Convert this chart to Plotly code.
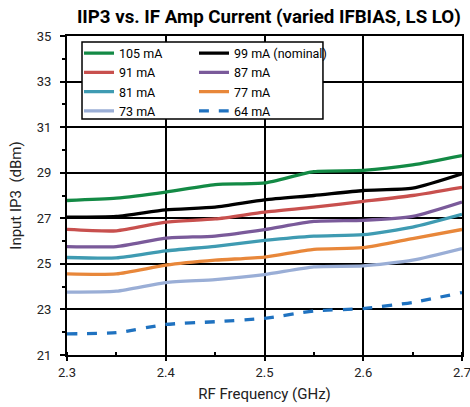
import plotly.graph_objects as go

freq = [2.30, 2.35, 2.40, 2.45, 2.50, 2.55, 2.60, 2.65, 2.70]

names = ["105 mA", "99 mA (nominal)", "91 mA", "87 mA", "81 mA", "77 mA", "73 mA", "64 mA"]

iip3_105 = [27.78, 27.88, 28.15, 28.48, 28.55, 29.05, 29.10, 29.34, 29.75]
iip3_99 = [27.05, 27.08, 27.37, 27.49, 27.81, 28.00, 28.22, 28.32, 28.95]
iip3_91 = [26.51, 26.45, 26.83, 26.97, 27.27, 27.49, 27.74, 28.00, 28.36]
iip3_87 = [25.76, 25.76, 26.13, 26.22, 26.50, 26.86, 26.91, 27.08, 27.71]
iip3_81 = [25.28, 25.26, 25.57, 25.77, 26.03, 26.22, 26.28, 26.61, 27.17]
iip3_77 = [24.56, 24.56, 24.94, 25.16, 25.30, 25.64, 25.71, 26.11, 26.51]
iip3_73 = [23.76, 23.80, 24.18, 24.31, 24.53, 24.87, 24.91, 25.16, 25.67]
iip3_64 = [21.93, 21.98, 22.34, 22.46, 22.61, 22.93, 23.04, 23.31, 23.74]

series = [iip3_105, iip3_99, iip3_91, iip3_87, iip3_81, iip3_77, iip3_73, iip3_64]
colors = ["#138a45", "#000000", "#c8504e", "#7a5a9a", "#3f9bb2", "#e8873a", "#9aaed6", "#1f72c0"]
dashes = ["solid"] * 7 + ["dash"]
legend_ids = ["legend", "legend2", "legend", "legend2", "legend", "legend2", "legend", "legend2"]

FONT = "Roboto"

fig = go.Figure()
for name, ys, c, d, lg in zip(names, series, colors, dashes, legend_ids):
    fig.add_trace(go.Scatter(
        x=freq, y=ys, name=name, mode="lines",
        line=dict(color=c, width=3.3, dash=d, shape="spline", smoothing=0.6),
        legend=lg,
    ))

legend_common = dict(
    bgcolor="rgba(0,0,0,0)", borderwidth=0,
    font=dict(family=FONT, size=12.5, color="#000000"),
    yanchor="top", xanchor="left", itemwidth=30,
    tracegroupgap=0,
)

fig.update_layout(
    width=470, height=407,
    margin=dict(l=67, r=8, t=36, b=52, autoexpand=False),
    paper_bgcolor="white", plot_bgcolor="white",
    title=dict(text="<b>IIP3 vs. IF Amp Current (varied IFBIAS, LS LO)</b>",
               x=0.572, xanchor="center", y=0.959, yanchor="middle",
               font=dict(family=FONT, size=18.7, color="#000000")),
    font=dict(family=FONT, size=12, color="#000000"),
    legend=dict(x=0.0304, y=0.992, **legend_common),
    legend2=dict(x=0.3215, y=0.992, **legend_common),
    shapes=[dict(type="rect", xref="paper", yref="paper", layer="above",
                 x0=0.0380, x1=0.648, y0=0.740, y1=0.981,
                 line=dict(color="#000000", width=1.5), fillcolor="#ffffff")],
)

fig.update_xaxes(
    range=[2.3, 2.7], dtick=0.1, tick0=2.3, tickformat=".1f",
    showgrid=True, gridcolor="#000000", gridwidth=1.5,
    showline=True, linecolor="#000000", linewidth=2, mirror=True,
    ticks="outside", ticklen=4, tickwidth=1.5, tickcolor="#000000",
    minor=dict(dtick=0.05, ticks="inside", ticklen=3, tickwidth=1.5, tickcolor="#000000", showgrid=False),
    tickfont=dict(family=FONT, size=13, color="#222222"),
    ticklabeloverflow="allow", automargin=False,
    title=dict(text="RF Frequency (GHz)", font=dict(family=FONT, size=15, color="#222222"), standoff=10),
    zeroline=False,
)
fig.update_yaxes(
    range=[21, 35], dtick=2, tick0=21,
    showgrid=True, gridcolor="#000000", gridwidth=1.5,
    showline=True, linecolor="#000000", linewidth=2, mirror=True,
    ticks="outside", ticklen=5, tickwidth=1.5, tickcolor="#000000",
    minor=dict(dtick=1, ticks="outside", ticklen=3, tickwidth=1.5, tickcolor="#000000", showgrid=False),
    tickfont=dict(family=FONT, size=13, color="#222222"),
    ticklabelstandoff=6, automargin=False,
    title=dict(text="Input IP3  (dBm)", font=dict(family=FONT, size=15, color="#222222"), standoff=12),
    zeroline=False,
)

fig.write_html("out.html", config={"displayModeBar": False},
               post_script="document.body.style.margin='0';document.body.style.padding='0';")
